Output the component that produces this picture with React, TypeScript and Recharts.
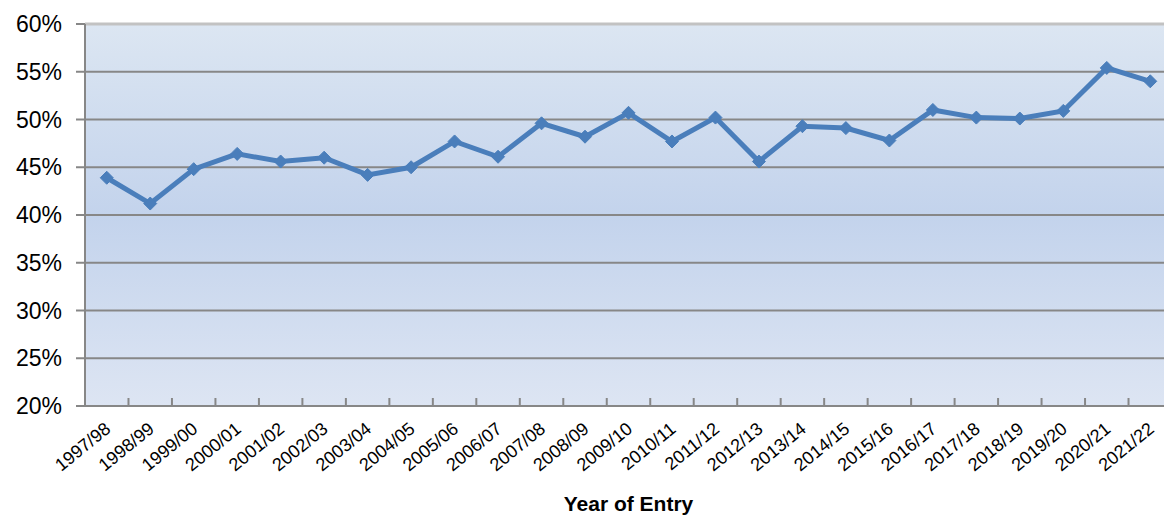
import React from "react";
import {
  LineChart,
  Line,
  XAxis,
  YAxis,
  CartesianGrid,
  ReferenceLine,
} from "recharts";

const years = [
  "1997/98", "1998/99", "1999/00", "2000/01", "2001/02", "2002/03", "2003/04",
  "2004/05", "2005/06", "2006/07", "2007/08", "2008/09", "2009/10", "2010/11",
  "2011/12", "2012/13", "2013/14", "2014/15", "2015/16", "2016/17", "2017/18",
  "2018/19", "2019/20", "2020/21", "2021/22",
];

const rates = [
  43.9, 41.2, 44.8, 46.4, 45.6, 46.0, 44.2, 45.0, 47.7, 46.1, 49.6, 48.2, 50.7,
  47.7, 50.2, 45.6, 49.3, 49.1, 47.8, 51.0, 50.2, 50.1, 50.9, 55.4, 54.0,
];

const yTicks = [20, 25, 30, 35, 40, 45, 50, 55, 60];

const data = years.map((year, i) => ({ i, year, rate: rates[i] }));
const centerTicks = years.map((_, i) => i);
const boundaryTicks = [...years.map((_, i) => i - 0.5), years.length - 0.5];
const xDomain = [-0.5, years.length - 0.5];

const BLUE = "#4a7ebb";
const GRID = "#878787";
const FONT = "'Liberation Sans', Arial, sans-serif";

function Diamond(props: any) {
  const { cx, cy } = props;
  if (cx == null || cy == null) return null;
  const r = 6.5;
  return (
    <polygon
      points={`${cx},${cy - r} ${cx + r},${cy} ${cx},${cy + r} ${cx - r},${cy}`}
      fill={BLUE}
      stroke={BLUE}
      strokeWidth={1}
    />
  );
}

function BoundaryTick(props: any) {
  const { x, y } = props;
  return <line x1={x} y1={y - 8} x2={x} y2={y - 1} stroke={GRID} strokeWidth={2} />;
}

function YearTick(props: any) {
  const { x, y, payload } = props;
  const ax = x + 5;
  const ay = y + 16;
  return (
    <text
      x={ax}
      y={ay}
      transform={`rotate(-39, ${ax}, ${ay})`}
      textAnchor="end"
      fontSize={18}
      fontFamily={FONT}
      fill="#000"
    >
      {years[payload.value]}
    </text>
  );
}

export default function App() {
  return (
    <div
      style={{
        position: "fixed",
        left: 0,
        top: 0,
        width: 1164,
        height: 516,
        overflow: "hidden",
        background: "#fff",
      }}
    >
      <LineChart
        width={1172}
        height={516}
        data={data}
        margin={{ top: 24, right: 0, left: 0, bottom: 0 }}
      >
        <defs>
          <linearGradient id="plotBg" x1="0" y1="0" x2="0" y2="1">
            <stop offset="0%" stopColor="#dce6f2" />
            <stop offset="50%" stopColor="#c3d3ec" />
            <stop offset="100%" stopColor="#dde5f3" />
          </linearGradient>
        </defs>
        <CartesianGrid
          vertical={false}
          stroke={GRID}
          strokeWidth={2}
          fill="url(#plotBg)"
          fillOpacity={1}
        />
        <XAxis
          xAxisId="b"
          type="number"
          dataKey="i"
          domain={xDomain}
          ticks={boundaryTicks}
          interval={0}
          tick={<BoundaryTick />}
          tickLine={false}
          tickSize={0}
          tickMargin={0}
          height={1}
          axisLine={{ stroke: GRID, strokeWidth: 2 }}
          allowDataOverflow
        />
        <XAxis
          xAxisId="c"
          type="number"
          dataKey="i"
          domain={xDomain}
          ticks={centerTicks}
          interval={0}
          tick={<YearTick />}
          tickLine={false}
          axisLine={false}
          height={109}
          allowDataOverflow
          label={{
            value: "Year of Entry",
            position: "insideBottom",
            offset: 5,
            fontSize: 21,
            fontWeight: "bold",
            fontFamily: "'Liberation Sans Narrow', 'Liberation Sans', sans-serif",
            fill: "#000",
          }}
        />
        <YAxis
          domain={[20, 60]}
          ticks={yTicks}
          width={85}
          tickFormatter={(v: number) => `${v}%`}
          tick={{ fontSize: 23, fontFamily: FONT, fill: "#000" }}
          tickSize={9}
          tickMargin={14}
          tickLine={{ stroke: GRID, strokeWidth: 2 }}
          axisLine={{ stroke: GRID, strokeWidth: 2 }}
        />
        <ReferenceLine
          y={60}
          xAxisId="c"
          stroke="#c2c2c2"
          strokeWidth={3}
        />
        <Line
          xAxisId="c"
          type="linear"
          dataKey="rate"
          stroke={BLUE}
          strokeWidth={5}
          dot={<Diamond />}
          activeDot={false}
          isAnimationActive={false}
        />
      </LineChart>
    </div>
  );
}
